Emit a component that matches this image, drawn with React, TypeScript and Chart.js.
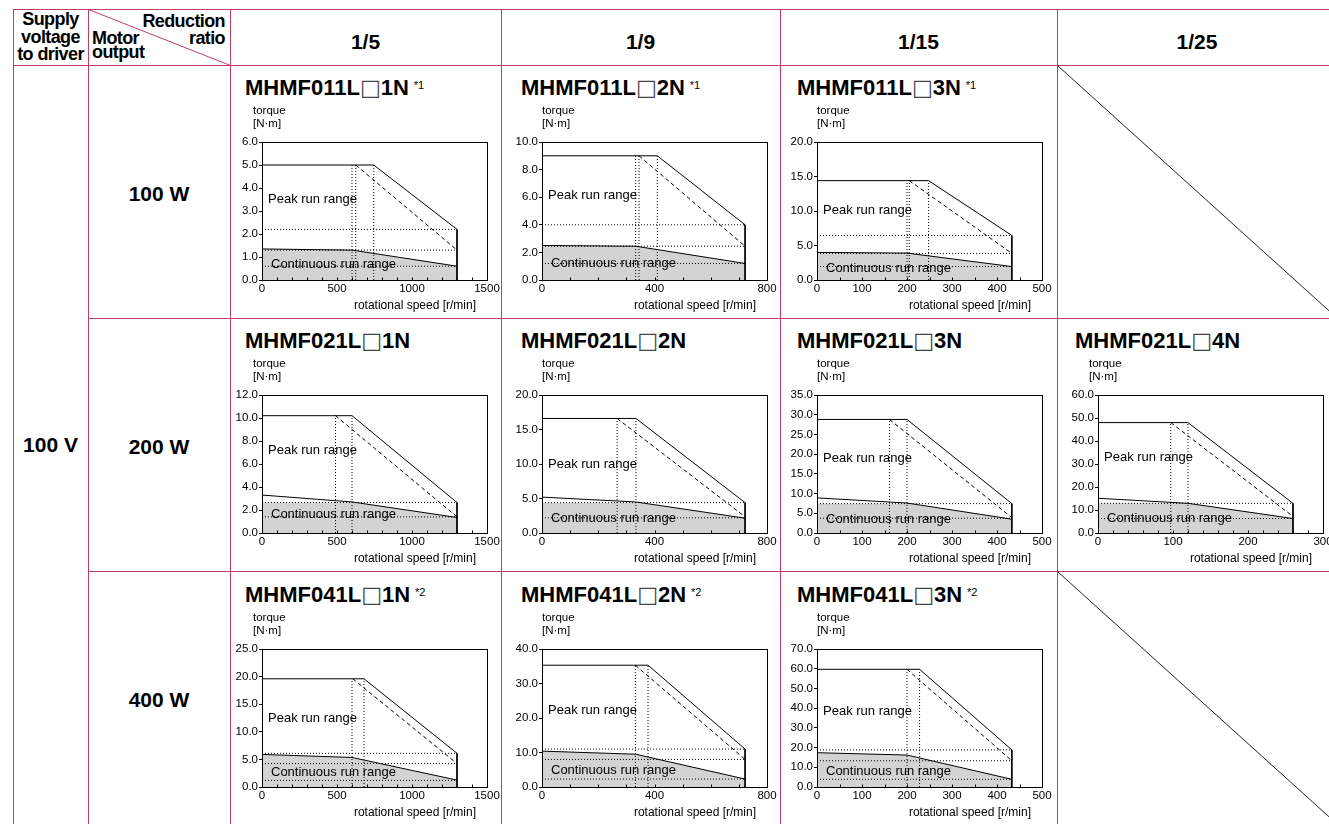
import React, { useEffect, useRef } from "react";
import { Chart, registerables } from "chart.js";
Chart.register(...registerables);

const FONT = '"Liberation Sans", Arial, Helvetica, sans-serif';
Chart.defaults.font.family = FONT;
Chart.defaults.color = "#000";

// ---------------- data ----------------
const ratios = ["1/5", "1/9", "1/15", "1/25"];
const outputs = ["100 W", "200 W", "400 W"];
const voltage = "100 V";
const models = [
  "MHMF011L□1N", "MHMF011L□2N", "MHMF011L□3N",
  "MHMF021L□1N", "MHMF021L□2N", "MHMF021L□3N", "MHMF021L□4N",
  "MHMF041L□1N", "MHMF041L□2N", "MHMF041L□3N",
];
const notes = ["*1", "*1", "*1", "", "", "", "", "*2", "*2", "*2"];
const speedAxisMax = [1500, 800, 500, 1500, 800, 500, 300, 1500, 800, 500];
const speedMajor = [500, 400, 100, 500, 400, 100, 100, 500, 400, 100];
const speedMinor = [100, 100, 50, 100, 100, 50, 20, 100, 100, 50];
const torqueAxisMax = [6, 10, 20, 12, 20, 35, 60, 25, 40, 70];
const torqueStep = [1, 2, 5, 2, 5, 5, 10, 5, 10, 10];
const peakTorque = [5.0, 9.0, 14.4, 10.2, 16.6, 28.8, 48.0, 19.6, 35.3, 59.7];
const peakKneeSpeed = [745, 410, 248, 600, 334, 200, 120, 680, 377, 228];
const maxSpeed = [1300, 722, 433, 1300, 722, 433, 260, 1300, 722, 433];
const peakEndTorque = [2.2, 4.0, 6.45, 2.65, 4.4, 7.45, 12.9, 6.1, 11.0, 18.8];
const dashStartSpeed = [625, 345, 205, 490, 267, 161, 97, 605, 332, 200];
const dashEndTorque = [1.3, 2.45, 3.85, 1.4, 2.35, 3.9, 7.2, 4.25, 8.0, 13.3];
const contStartTorque = [1.35, 2.5, 4.0, 3.3, 5.2, 8.9, 15.1, 5.9, 10.4, 17.4];
const contKneeSpeed = [600, 333, 200, 600, 333, 200, 120, 600, 333, 200];
const contKneeTorque = [1.3, 2.45, 3.9, 2.7, 4.5, 7.6, 12.9, 5.35, 9.5, 16.2];
const contEndTorque = [0.6, 1.2, 1.95, 1.35, 2.15, 3.5, 6.3, 1.25, 2.3, 3.9];
const guideSpeeds = [
  [600, 625, 745], [333, 345, 410], [200, 205, 248],
  [490, 600], [267, 334], [161, 200], [97, 120],
  [600, 680], [332, 377], [200, 228],
];
const guideTorques = [
  [2.2, 1.3, 0.6], [4.0, 2.45, 1.2], [6.45, 3.85, 1.95],
  [2.65, 1.4], [4.4, 2.2], [7.45, 3.75], [12.9, 6.3],
  [6.1, 4.25, 1.2], [11.0, 8.0, 2.3], [18.8, 13.3, 3.9],
];
const peakLabelTorque = [3.5, 6.1, 10.1, 7.2, 9.9, 19.0, 33, 12.4, 22.2, 38.4];
const contLabelTorque = [0.66, 1.18, 1.7, 1.6, 2.1, 3.4, 6.3, 2.6, 4.9, 7.7];
const peakLabel = "Peak run range";
const contLabel = "Continuous run range";
const yTitle = ["torque", "[N·m]"];
const xTitle = "rotational speed [r/min]";

// ---------------- layout ----------------
const COL_LEFT = [230, 501, 780, 1057];
const COL_RIGHT = [501, 780, 1057, 1337];
const ROW_TOP = [65, 318, 571];
const ROW_BOTTOM = [318, 571, 824];
const PLOT_LEFT = [262, 542, 817, 1098];
const PLOT_TOP = [142, 395, 649];
const PLOT_W = 225;
const PLOT_H = 138;
const AXIS_W = 40;
const PAD_TOP = 40;
const PAD_RIGHT = 20;
const XAXIS_H = 36;
const CELL = [[0, 0], [0, 1], [0, 2], [1, 0], [1, 1], [1, 2], [1, 3], [2, 0], [2, 1], [2, 2]];
const TORQUE_DX = [-9, 0, 0, -9];
const TITLE_LEFT = [245, 521, 797, 1075];
const GRID = "#c23d66";

const pts = (arr: number[][]) => arr.map(([x, y]) => ({ x, y }));

function clipBelow(points: number[][], level: number) {
  const out: number[][] = [];
  for (let k = 0; k < points.length; k++) {
    const [x, y] = points[k];
    if (k > 0) {
      const [px, py] = points[k - 1];
      if ((py - level) * (y - level) < 0) {
        const t = (level - py) / (y - py);
        out.push([px + t * (x - px), level]);
      }
    }
    out.push([x, Math.min(y, level)]);
  }
  return out;
}

const decor = {
  id: "decor",
  afterDatasetsDraw(chart: any, _args: any, o: any) {
    const { ctx, chartArea: a, scales } = chart;
    const xs = scales.x;
    const ys = scales.y;
    ctx.save();
    ctx.strokeStyle = "#000";
    ctx.lineWidth = 1;
    const L = Math.round(a.left) + 0.5;
    const R = Math.round(a.right) + 0.5;
    const T = Math.round(a.top) + 0.5;
    const B = Math.round(a.bottom) + 0.5;
    ctx.strokeRect(L, T, R - L, B - T);
    ctx.beginPath();
    xs.ticks.forEach((t: any) => {
      const px = Math.round(xs.getPixelForValue(t.value)) + 0.5;
      ctx.moveTo(px, B);
      ctx.lineTo(px, B - 3);
    });
    ctx.stroke();
    ctx.fillStyle = "#000";
    ctx.textBaseline = "middle";
    ctx.textAlign = "left";
    ctx.font = `11.5px ${FONT}`;
    ctx.fillText(yTitle[0], a.left + o.torqueDx, a.top - 31.5);
    ctx.fillText(yTitle[1], a.left + o.torqueDx, a.top - 18.5);
    ctx.font = `13px ${FONT}`;
    ctx.fillText(peakLabel, a.left + 6, ys.getPixelForValue(o.peakLabel));
    ctx.fillText(contLabel, a.left + 9, ys.getPixelForValue(o.contLabel));
    ctx.font = `12px ${FONT}`;
    ctx.textAlign = "right";
    ctx.fillText(xTitle, a.right - 11, a.bottom + 26);
    ctx.restore();
  },
};

function MiniChart({ i }: { i: number }) {
  const ref = useRef<HTMLCanvasElement>(null);
  const [r, c] = CELL[i];
  const W = AXIS_W + PLOT_W + PAD_RIGHT;
  const H = PAD_TOP + PLOT_H + XAXIS_H;
  useEffect(() => {
    const line = (data: number[][], extra: any = {}) => ({
      data: pts(data),
      borderColor: "#000",
      borderWidth: 1,
      pointRadius: 0,
      fill: false,
      tension: 0,
      ...extra,
    });
    const peak = [[0, peakTorque[i]], [peakKneeSpeed[i], peakTorque[i]], [maxSpeed[i], peakEndTorque[i]], [maxSpeed[i], 0]];
    const dashed = [[dashStartSpeed[i], peakTorque[i]], [maxSpeed[i], dashEndTorque[i]]];
    const cont = [[0, contStartTorque[i]], [contKneeSpeed[i], contKneeTorque[i]], [maxSpeed[i], contEndTorque[i]]];
    const fillPts = clipBelow(cont, peakEndTorque[i]);
    const datasets: any[] = [
      line(peak),
      line(dashed, { borderDash: [4, 3] }),
      line(cont),
      ...guideSpeeds[i].map((s) => line([[s, 0], [s, peakTorque[i]]], { borderDash: [1, 2] })),
      ...guideTorques[i].map((t) => line([[0, t], [maxSpeed[i], t]], { borderDash: [1, 2] })),
      { data: pts(fillPts), borderWidth: 0, pointRadius: 0, fill: "origin", backgroundColor: "#d3d3d3", tension: 0 },
    ];
    const chart = new Chart(ref.current as HTMLCanvasElement, {
      type: "line",
      data: { datasets },
      options: {
        animation: false,
        responsive: false,
        events: [],
        layout: { padding: { top: PAD_TOP, right: PAD_RIGHT, left: 0, bottom: 0 } },
        plugins: {
          legend: { display: false },
          tooltip: { enabled: false },
          decor: { torqueDx: TORQUE_DX[c], peakLabel: peakLabelTorque[i], contLabel: contLabelTorque[i] },
        } as any,
        scales: {
          x: {
            type: "linear",
            min: 0,
            max: speedAxisMax[i],
            afterFit: (s: any) => { s.height = XAXIS_H; },
            ticks: {
              stepSize: speedMinor[i],
              autoSkip: false,
              maxRotation: 0,
              padding: 2,
              color: "#000",
              font: { size: 11.5 },
              callback: (v: any) => (Number(v) % speedMajor[i] === 0 ? String(v) : ""),
            },
            grid: { display: false, drawTicks: false, tickLength: 0 },
            border: { display: false },
          },
          y: {
            type: "linear",
            min: 0,
            max: torqueAxisMax[i],
            afterFit: (s: any) => { s.width = AXIS_W; },
            ticks: {
              stepSize: torqueStep[i],
              padding: 1,
              color: "#000",
              font: { size: 11.5 },
              callback: (v: any) => Number(v).toFixed(1),
            },
            grid: { display: true, drawOnChartArea: false, drawTicks: true, tickLength: 3, color: "#000", lineWidth: 1 },
            border: { display: false },
          },
        },
      } as any,
      plugins: [decor],
    });
    return () => chart.destroy();
  }, [i, c]);
  return (
    <canvas
      ref={ref}
      width={W}
      height={H}
      style={{ position: "absolute", left: PLOT_LEFT[c] - AXIS_W, top: PLOT_TOP[r] - PAD_TOP, width: W, height: H }}
    />
  );
}

function Title({ i }: { i: number }) {
  const [r, c] = CELL[i];
  const [pre, post] = models[i].split("□");
  return (
    <div
      style={{
        position: "absolute",
        left: TITLE_LEFT[c],
        top: PLOT_TOP[r] - 65,
        fontSize: 22,
        lineHeight: "22px",
        fontWeight: "bold",
        whiteSpace: "nowrap",
      }}
    >
      {pre}
      <span style={{ fontFamily: '"DejaVu Sans"', fontWeight: "normal", color: "#444" }}>□</span>
      {post}
      {notes[i] && (
        <span style={{ fontSize: 11, lineHeight: "11px", fontWeight: "normal", verticalAlign: "top", position: "relative", top: 3, marginLeft: 5 }}>
          {notes[i]}
        </span>
      )}
    </div>
  );
}

export default function App() {
  const hdr: React.CSSProperties = { position: "absolute", fontWeight: "bold", fontSize: 18, lineHeight: "18px", letterSpacing: "-0.6px", whiteSpace: "nowrap" };
  const center: React.CSSProperties = { position: "absolute", display: "flex", alignItems: "center", justifyContent: "center", fontWeight: "bold", fontSize: 21, lineHeight: "21px" };
  return (
    <div style={{ position: "fixed", left: 0, top: 0, width: 1329, height: 824, overflow: "hidden", background: "#fff", fontFamily: FONT, color: "#000" }}>
      <svg width={1329} height={824} style={{ position: "absolute", left: 0, top: 0 }}>
        <g stroke={GRID} strokeWidth={1} fill="none">
          <line x1={13} y1={9.5} x2={1340} y2={9.5} />
          <line x1={13} y1={65.5} x2={1340} y2={65.5} />
          <line x1={88} y1={318.5} x2={1340} y2={318.5} />
          <line x1={88} y1={571.5} x2={1340} y2={571.5} />
          {[13.5, 88.5, 230.5, 501.5, 780.5, 1057.5].map((x) => (
            <line key={x} x1={x} y1={9} x2={x} y2={830} />
          ))}
          <line x1={88.5} y1={9.5} x2={230.5} y2={65.5} />
        </g>
        <g stroke="#222" strokeWidth={1}>
          <line x1={1057.5} y1={65.5} x2={COL_RIGHT[3]} y2={ROW_BOTTOM[0]} />
          <line x1={1057.5} y1={571.5} x2={COL_RIGHT[3]} y2={ROW_BOTTOM[2]} />
        </g>
      </svg>

      <div style={{ ...hdr, left: 13, width: 75, top: 11, lineHeight: "17.7px", textAlign: "center" }}>
        Supply<br />voltage<br />to driver
      </div>
      <div style={{ ...hdr, left: 88, width: 137, top: 12, textAlign: "right" }}>Reduction</div>
      <div style={{ ...hdr, left: 88, width: 137, top: 28.5, textAlign: "right" }}>ratio</div>
      <div style={{ ...hdr, left: 92, top: 28.5 }}>Motor</div>
      <div style={{ ...hdr, left: 92, top: 43 }}>output</div>

      {ratios.map((t, k) => (
        <div key={t} style={{ position: "absolute", left: COL_LEFT[k], width: COL_RIGHT[k] - COL_LEFT[k], top: 31, textAlign: "center", fontWeight: "bold", fontSize: 21, lineHeight: "21px" }}>
          {t}
        </div>
      ))}

      <div style={{ ...center, left: 13, width: 75, top: ROW_TOP[0], height: ROW_BOTTOM[2] - ROW_TOP[0] }}>{voltage}</div>
      {outputs.map((t, k) => (
        <div key={t} style={{ ...center, left: 88, width: 142, top: ROW_TOP[k] + 2, height: ROW_BOTTOM[k] - ROW_TOP[k] }}>
          {t}
        </div>
      ))}

      {models.map((_, i) => (
        <Title key={"t" + i} i={i} />
      ))}
      {models.map((_, i) => (
        <MiniChart key={"c" + i} i={i} />
      ))}
    </div>
  );
}
